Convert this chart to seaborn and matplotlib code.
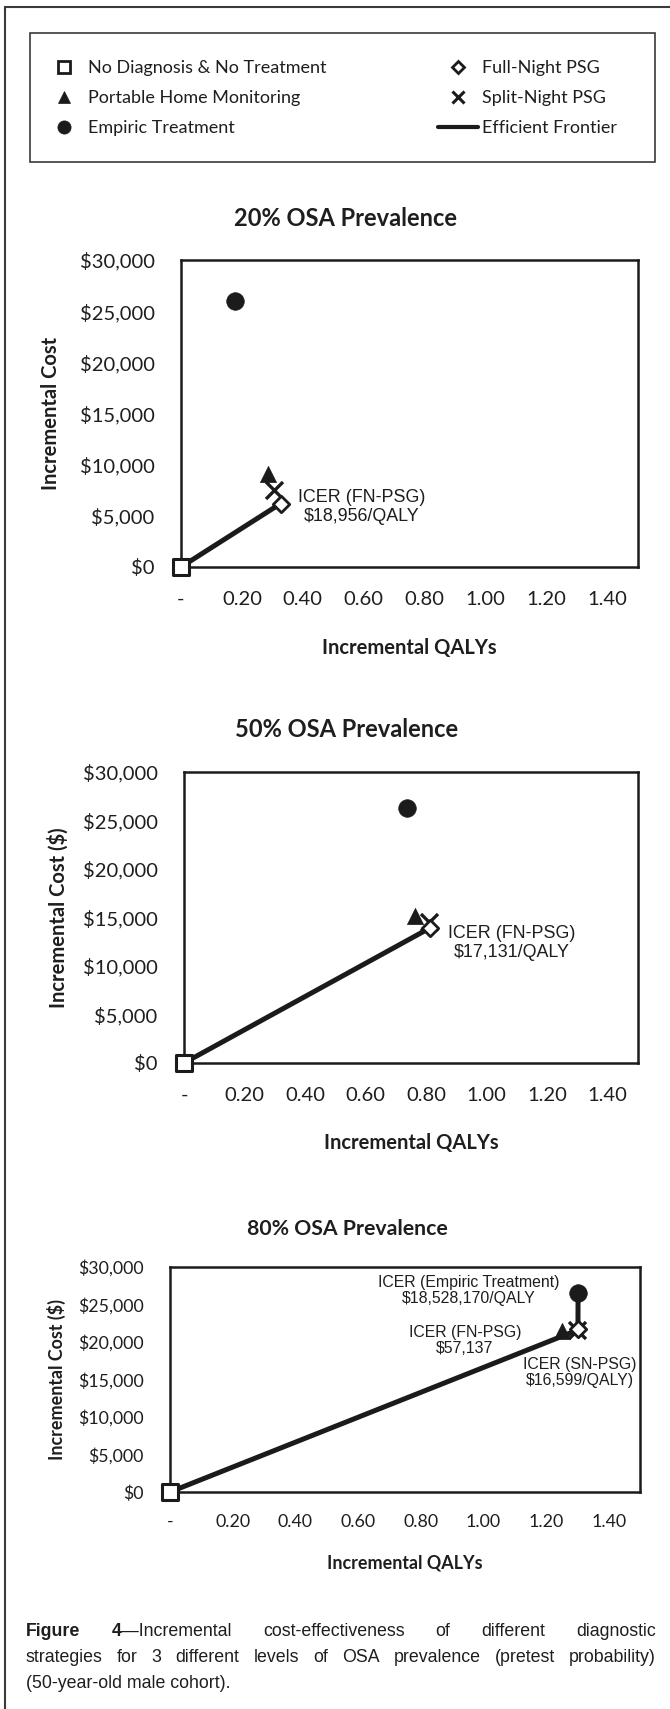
import numpy as np
import pandas as pd
import matplotlib
matplotlib.use("Agg")
import matplotlib.pyplot as plt
import seaborn as sns
from matplotlib.lines import Line2D
from matplotlib.patches import Rectangle
from matplotlib import font_manager

# ---------------- data ----------------
strategies = ["No Diagnosis & No Treatment", "Portable Home Monitoring",
              "Empiric Treatment", "Full-Night PSG", "Split-Night PSG"]
panel_titles = ["20% OSA Prevalence", "50% OSA Prevalence", "80% OSA Prevalence"]
y_titles = ["Incremental Cost", "Incremental Cost ($)", "Incremental Cost ($)"]
x_title = "Incremental QALYs"

# incremental QALYs / costs, same order as `strategies`
qalys_20 = [0.0, 0.284, 0.176, 0.327, 0.305]
costs_20 = [0, 9050, 26000, 6200, 7500]
qalys_50 = [0.0, 0.763, 0.737, 0.812, 0.808]
costs_50 = [0, 15150, 26300, 13910, 14550]
qalys_80 = [0.0, 1.251, 1.3023, 1.302, 1.300]
costs_80 = [0, 21500, 26530, 21694, 21580]

frontier_20 = ["No Diagnosis & No Treatment", "Full-Night PSG"]
frontier_50 = ["No Diagnosis & No Treatment", "Full-Night PSG"]
frontier_80 = ["No Diagnosis & No Treatment", "Split-Night PSG",
               "Full-Night PSG", "Empiric Treatment"]

icer_labels_20 = ["ICER (FN-PSG)\n$18,956/QALY"]
icer_labels_50 = ["ICER (FN-PSG)\n$17,131/QALY"]
icer_labels_80 = ["ICER (Empiric Treatment)\n$18,528,170/QALY",
                  "ICER (FN-PSG)\n$57,137",
                  "ICER (SN-PSG)\n$16,599/QALY)"]

x_ticks = [0.0, 0.2, 0.4, 0.6, 0.8, 1.0, 1.2, 1.4]
x_tick_labels = ["-", "0.20", "0.40", "0.60", "0.80", "1.00", "1.20", "1.40"]
y_ticks = [0, 5000, 10000, 15000, 20000, 25000, 30000]
y_tick_labels = ["$0", "$5,000", "$10,000", "$15,000", "$20,000", "$25,000", "$30,000"]

legend_col1 = ["No Diagnosis & No Treatment", "Portable Home Monitoring", "Empiric Treatment"]
legend_col2 = ["Full-Night PSG", "Split-Night PSG", "Efficient Frontier"]

caption_lines = [
    [[("Figure", "bold")], [("4", "bold"), ("\u2014Incremental", "normal")],
     [("cost-effectiveness", "normal")], [("of", "normal")],
     [("different", "normal")], [("diagnostic", "normal")]],
    [[(w, "normal")] for w in
     "strategies for 3 different levels of OSA prevalence (pretest probability)".split()],
    [[("(50-year-old male cohort).", "normal")]],
]

# ---------------- style ----------------
sns.set_style("white")
plt.rcParams["font.family"] = ["Lato", "DejaVu Sans"]
K = "#1b1b1b"
TXT = "#1e1e1e"
plt.rcParams["text.color"] = TXT
plt.rcParams["axes.labelcolor"] = TXT
plt.rcParams["xtick.color"] = K
plt.rcParams["ytick.color"] = K

W, H, DPI = 670, 1709, 100
fig = plt.figure(figsize=(W / DPI, H / DPI), dpi=DPI)
fig.patch.set_facecolor("white")


def fx(x):
    return x / W


def fy(y):
    return 1 - y / H


marker_style = {
    "No Diagnosis & No Treatment": dict(marker="s", s=125, color="white", edgecolor=K, linewidth=2.2, zorder=6),
    "Portable Home Monitoring": dict(marker="^", s=135, color=K, edgecolor=K, linewidth=0.5, zorder=4),
    "Empiric Treatment": dict(marker="o", s=160, color=K, edgecolor=K, linewidth=0.5, zorder=4),
    "Full-Night PSG": dict(marker="D", s=70, color="white", edgecolor=K, linewidth=2.0, zorder=5),
    "Split-Night PSG": dict(marker="x", s=150, color=K, edgecolor=K, linewidth=2.4, zorder=4),
}

panels = [
    dict(q=qalys_20, c=costs_20, fr=frontier_20, lab=icer_labels_20,
         ann=[(0.594, 5860)], box=(181, 260, 638, 567), title=(346, 218, 17),
         lab_fs=14.5, tick_fs=14.5, ann_fs=12.9, ylab_x=51, xlab_y=648, tpad=12),
    dict(q=qalys_50, c=costs_50, fr=frontier_50, lab=icer_labels_50,
         ann=[(1.084, 12370)], box=(184, 772, 638, 1063), title=(347, 730, 17),
         lab_fs=14.5, tick_fs=14.5, ann_fs=12.9, ylab_x=58, xlab_y=1143, tpad=12),
    dict(q=qalys_80, c=costs_80, fr=frontier_80, lab=icer_labels_80,
         ann=[(0.954, 26870), (0.941, 20200), (1.308, 15930)], box=(170, 1267, 640, 1492),
         title=(347, 1229, 15.3),
         lab_fs=12.9, tick_fs=12.8, ann_fs=11.4, ylab_x=56, xlab_y=1563, tpad=10.5),
]

for i, p in enumerate(panels):
    l, t, r, b = p["box"]
    ax = fig.add_axes([fx(l), fy(b), (r - l) / W, (b - t) / H])
    df = pd.DataFrame({"strategy": strategies, "qaly": p["q"], "cost": p["c"]})
    fr = df.set_index("strategy").loc[p["fr"]].reset_index()
    sns.lineplot(data=fr, x="qaly", y="cost", sort=False, estimator=None,
                 color=K, linewidth=3.6, ax=ax, zorder=3, legend=False)
    for name in strategies:
        sub = df[df["strategy"] == name]
        sns.scatterplot(data=sub, x="qaly", y="cost", ax=ax, legend=False,
                        clip_on=False, **marker_style[name])
    for txt, (ax_x, ax_y) in zip(p["lab"], p["ann"]):
        ax.text(ax_x, ax_y, txt, ha="center", va="center", fontsize=p["ann_fs"],
                family=["Liberation Sans", "DejaVu Sans"], color=TXT,
                linespacing=1.1, zorder=7)
    ax.set_xlim(0, 1.5)
    ax.set_ylim(0, 30000)
    ax.set_xticks(x_ticks)
    ax.set_xticklabels(x_tick_labels)
    ax.set_yticks(y_ticks)
    ax.set_yticklabels(y_tick_labels)
    ax.tick_params(axis="both", which="major", direction="out", length=5,
                   width=1.6, labelsize=p["tick_fs"], colors=K, labelcolor=TXT)
    ax.tick_params(axis="x", pad=p["tpad"])
    ax.tick_params(axis="y", pad=14)
    for sp in ax.spines.values():
        sp.set_visible(True)
        sp.set_linewidth(1.8)
        sp.set_color(K)
    ax.set_xlabel(x_title, fontsize=p["lab_fs"], fontweight="bold")
    ax.set_ylabel(y_titles[i], fontsize=p["lab_fs"], fontweight="bold")
    ax.xaxis.set_label_coords(0.5, -(p["xlab_y"] - b) / (b - t))
    ax.xaxis.label.set_verticalalignment("center")
    ax.yaxis.set_label_coords((p["ylab_x"] - l) / (r - l), 0.5)
    ax.yaxis.label.set_verticalalignment("center")
    ax.grid(False)
    ax.set_facecolor("white")
    tx, ty, tfs = p["title"]
    fig.text(fx(tx), fy(ty), panel_titles[i], ha="center", va="center",
             fontsize=tfs, fontweight="bold", color=TXT)

# ---------------- legend ----------------
fig.add_artist(Rectangle((fx(30), fy(162)), (655 - 30) / W, (162 - 33) / H,
                         transform=fig.transFigure, facecolor="none",
                         edgecolor="#3a3a3a", linewidth=1.2))


def handle_for(name):
    if name == "Efficient Frontier":
        return Line2D([], [], color=K, linewidth=3.0)
    st = marker_style[name]
    ms = {"s": 8.5, "^": 9, "o": 9.5, "D": 6.5, "x": 8.5}[st["marker"]]
    face = st["color"]
    return Line2D([], [], linestyle="none", marker=st["marker"], markersize=ms,
                  markerfacecolor=face, markeredgecolor=K,
                  markeredgewidth=2.0 if face == "white" else (2.2 if st["marker"] == "x" else 0.5))


leg_kw = dict(frameon=False, fontsize=13, handlelength=2.2, handletextpad=0.25,
              labelspacing=0.78, borderpad=0, borderaxespad=0, loc="center left")
leg1 = fig.legend([handle_for(n) for n in legend_col1], legend_col1,
                  bbox_to_anchor=(fx(44), fy(98)), **leg_kw)
leg2 = fig.legend([handle_for(n) for n in legend_col2], legend_col2,
                  bbox_to_anchor=(fx(438), fy(98)), **leg_kw)
for lg in (leg1, leg2):
    for t in lg.get_texts():
        t.set_color(TXT)

# ---------------- outer frame ----------------
fig.add_artist(Line2D([fx(5), fx(W)], [fy(7), fy(7)], transform=fig.transFigure,
                      color="#3a3a3a", linewidth=1.5))
fig.add_artist(Line2D([fx(5), fx(5)], [fy(7), fy(H)], transform=fig.transFigure,
                      color="#3a3a3a", linewidth=1.5))

# ---------------- caption ----------------
names = {f.name for f in font_manager.fontManager.ttflist}
cap_family = ["Liberation Sans Narrow"] if "Liberation Sans Narrow" in names else ["Liberation Sans"]
cap_family = cap_family + ["DejaVu Sans"]
renderer = fig.canvas.get_renderer()
cap_left, cap_right = 26, 656
cap_baselines = [1636, 1662, 1688]
cap_fs = 12.8


def seg_width(s, weight, fs):
    tt = fig.text(0, 0, s, fontsize=fs, fontweight=weight, family=cap_family)
    w = tt.get_window_extent(renderer=renderer).width
    tt.remove()
    return w


space_w = seg_width("a b", "normal", cap_fs) - seg_width("ab", "normal", cap_fs)
nat = []
for line in caption_lines[:2]:
    ws = sum(seg_width(s, wt, cap_fs) for tok in line for s, wt in tok)
    nat.append(ws + space_w * (len(line) - 1))
if max(nat) > cap_right - cap_left:
    cap_fs = cap_fs * (cap_right - cap_left) / max(nat) * 0.99

for li, line in enumerate(caption_lines):
    widths = [sum(seg_width(s, wt, cap_fs) for s, wt in tok) for tok in line]
    if li < 2 and len(line) > 1:
        gap = (cap_right - cap_left - sum(widths)) / (len(line) - 1)
    else:
        gap = space_w
    x = cap_left
    for tok, tw in zip(line, widths):
        xx = x
        for s, wt in tok:
            fig.text(fx(xx), fy(cap_baselines[li]), s, fontsize=cap_fs, fontweight=wt,
                     family=cap_family, ha="left", va="baseline", color=TXT)
            xx += seg_width(s, wt, cap_fs)
        x += tw + gap

fig.savefig("out.png", dpi=DPI, facecolor="white")
